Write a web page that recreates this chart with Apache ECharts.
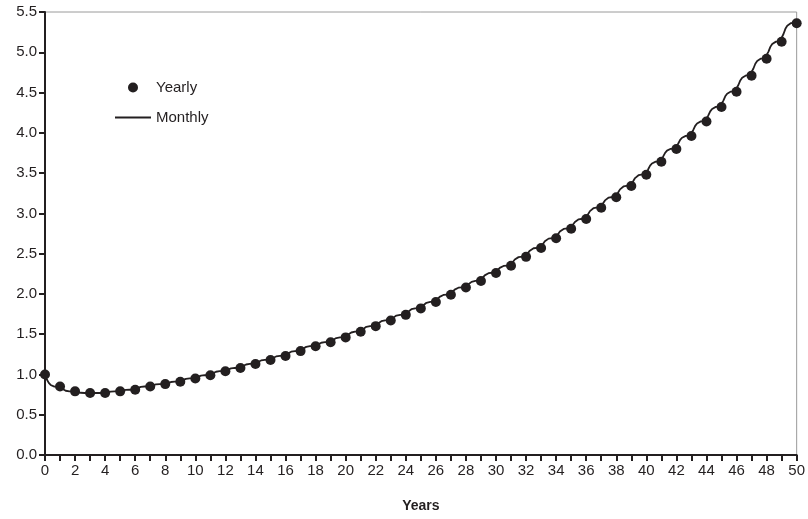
<!DOCTYPE html>
<html>
<head>
<meta charset="utf-8">
<script src="https://cdn.jsdelivr.net/npm/echarts@6/dist/echarts.min.js"></script>
<style>
html,body{margin:0;padding:0;background:#fff;}
#chart{width:808px;height:519px;}
</style>
</head>
<body>
<div id="chart"></div>
<script>
// Years 0..50
const years = [0,1,2,3,4,5,6,7,8,9,10,11,12,13,14,15,16,17,18,19,20,21,22,23,24,25,26,27,28,29,30,31,32,33,34,35,36,37,38,39,40,41,42,43,44,45,46,47,48,49,50];
// Yearly values (dots)
const yearly = [1.00,0.85,0.79,0.77,0.77,0.79,0.81,0.85,0.88,0.91,0.95,0.99,1.04,1.08,1.13,1.18,1.23,1.29,1.35,1.40,1.46,1.53,1.60,1.67,1.74,1.82,1.90,1.99,2.08,2.16,2.26,2.35,2.46,2.57,2.69,2.81,2.93,3.07,3.20,3.34,3.48,3.64,3.80,3.96,4.14,4.32,4.51,4.71,4.92,5.13,5.36];
// Observed within-year shape of the monthly line (share of the year's change reached at each point of the year)
const monthlyT = [0,0.125,0.25,0.375,0.5,0.625,0.75,0.875];
const monthlyShare = [0,0.42,0.70,0.87,0.97,1.01,1.025,1.015];
const yTicks = [0,0.5,1,1.5,2,2.5,3,3.5,4,4.5,5,5.5];

const yearlyData = years.map((x,i)=>[x, yearly[i]]);
const monthlyData = [];
for (let i = 0; i < years.length - 1; i++) {
  for (let j = 0; j < monthlyT.length; j++) {
    monthlyData.push([years[i] + monthlyT[j], yearly[i] + (yearly[i+1]-yearly[i]) * monthlyShare[j]]);
  }
}
monthlyData.push([years[years.length-1], yearly[yearly.length-1]]);

const FONT = 'Liberation Sans, Arial, sans-serif';
const chart = echarts.init(document.getElementById('chart'), null, {renderer:'canvas'});
chart.setOption({
  animation: false,
  backgroundColor: '#fff',
  textStyle: {fontFamily: FONT},
  grid: {left: 45, right: 11, top: 12, bottom: 64, show: true, borderColor: '#9a9a9a', borderWidth: 1},
  legend: {
    orient: 'vertical', left: 109, top: 75,
    itemWidth: 36, itemHeight: 10, itemGap: 15,
    textStyle: {fontFamily: FONT, fontSize: 15, color: '#231f20'},
    data: [
      {name:'Yearly', icon:'circle'},
      {name:'Monthly', itemStyle: {color: 'rgba(0,0,0,0)', borderWidth: 0, opacity: 0}}
    ]
  },
  xAxis: {
    type: 'value', min: 0, max: 50, interval: 1,
    name: 'Years', nameLocation: 'middle', nameGap: 44,
    nameTextStyle: {fontFamily: FONT, fontSize: 14, fontWeight: 'bold', color: '#231f20'},
    axisLine: {show: true, lineStyle: {color: '#231f20', width: 2}},
    axisTick: {show: true, length: 6, lineStyle: {color: '#231f20', width: 2}},
    axisLabel: {margin: 8, fontSize: 15, color: '#231f20', fontFamily: FONT,
      formatter: v => (v % 2 === 0 ? String(v) : '')},
    splitLine: {show: false}
  },
  yAxis: {
    type: 'value', min: 0, max: 5.5, interval: 0.5,
    axisLine: {show: true, lineStyle: {color: '#231f20', width: 2}},
    axisTick: {show: true, length: 6, lineStyle: {color: '#231f20', width: 2}},
    axisLabel: {margin: 8, fontSize: 15, color: '#231f20', fontFamily: FONT,
      formatter: v => v.toFixed(1)},
    splitLine: {show: false}
  },
  series: [
    {
      name: 'Monthly', type: 'line', data: monthlyData,
      showSymbol: false, symbol: 'none',
      lineStyle: {color: '#231f20', width: 1.8},
      itemStyle: {color: '#231f20'},
      z: 2
    },
    {
      name: 'Yearly', type: 'scatter', data: yearlyData,
      symbol: 'circle', symbolSize: 10,
      itemStyle: {color: '#231f20', opacity: 1},
      z: 3
    }
  ]
});
</script>
</body>
</html>
